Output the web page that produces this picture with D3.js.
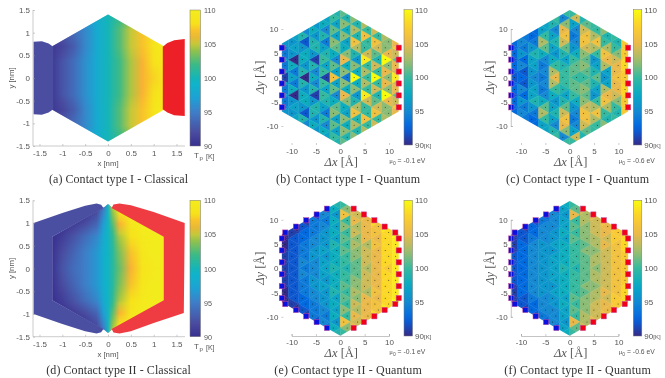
<!DOCTYPE html>
<html><head><meta charset="utf-8">
<script src="https://cdnjs.cloudflare.com/ajax/libs/d3/7.8.5/d3.min.js"></script>
<style>
html,body{margin:0;padding:0;background:#fff;overflow:hidden}
svg{display:block;filter:blur(0.5px)}
text{font-family:"Liberation Sans",sans-serif;fill:#555}
.cap{font-family:"Liberation Serif",serif;fill:#333}
.math{font-family:"Liberation Serif",serif;fill:#555}
</style></head><body>
<svg id="c" width="665" height="378"></svg>
<script>
const _ = null;
// ---------- colour maps ----------
const classicalTemps  = [90,92,95,97,99,100,102,104,105,106.5,108,110];
const classicalColors = ["#38308f","#4a4ca0","#3e7ec8","#1ea0d4","#0fb3cc","#14b5b8","#3cba86","#90c24d","#c5c83a","#f9b233","#f7e11b","#f3ec1d"];
const parulaTemps  = [90,92.5,95,97.5,100,102.5,105,107.5,110];
const parulaColors = ["#352a87","#0363e1","#1389d2","#06aac4","#36b99f","#a0bd6c","#eab94c","#fcce2e","#f9fb0e"];
const cbarTicks = [90,95,100,105,110];

// ---------- classical panels: temperature on a grid (x nm, y nm) ----------
const fieldYs = [0,0.35,0.7,1.05,1.42];
const fieldXsA = [-1.25,-1,-0.75,-0.5,-0.25,0,0.25,0.5,0.75,1,1.25];
const fieldA = [
 [90.5,92.5,94,96,98,100,102,104.5,106.5,107.5,109.5],
 [90.5,92.5,94,96,98,100,102,104.5,106.5,108,109.5],
 [90.5,91.5,93,95.5,98,100,102.5,105,107,108.5,110],
 [92,93,94,95.5,98,100,102.5,105,107,108,109],
 [94,95,96,97,98.5,100,101.5,103,105,106,107]];
const fieldXsD = [-1.25,-1,-0.75,-0.5,-0.25,-0.1,0,0.1,0.25,0.5,0.75,1,1.25];
const fieldD = [
 [90,92.5,94,95,96.5,98.5,99.5,101,103,106.5,108.5,109.5,110],
 [90,92,93.5,95,96.5,98.5,99.5,101,103.5,107,109,110,110],
 [90,91,92.5,94,95.5,98,99.5,101.5,104.5,108,109.5,110,110],
 [90,90,90.5,91.5,93,96.5,99.5,103,107,109,110,110,110],
 [90,90,90,90,91,94,99.5,105,109,110,110,110,110]];
// outlines [x,y] in nm
const hexA = [[0,1.4],[1.22,0.7],[1.22,-0.7],[0,-1.4],[-1.22,-0.7],[-1.22,0.7]];
const contactLeftA = [[-1.63,0.8],[-1.45,0.81],[-1.3,0.76],[-1.2,0.69],[-1.2,-0.69],[-1.3,-0.76],[-1.45,-0.81],[-1.63,-0.8]];
const contactRightA = [[1.2,0.69],[1.3,0.77],[1.45,0.83],[1.68,0.86],[1.68,-0.84],[1.45,-0.82],[1.3,-0.76],[1.2,-0.69]];
const hexD = [[0,1.42],[0.07,1.36],[1.22,0.7],[1.22,-0.7],[0.07,-1.36],[0,-1.42],[-0.07,-1.36],[-1.22,-0.7],[-1.22,0.7],[-0.07,1.36]];
const contactLeftD = [[-1.63,1],[-1,1.22],[-0.5,1.38],[-0.25,1.43],[-0.15,1.4],[-0.1,1.33],[-1.22,0.7],[-1.22,-0.7],[-0.1,-1.33],[-0.15,-1.4],[-0.25,-1.43],[-0.5,-1.38],[-1,-1.22],[-1.63,-1]];
const contactRightD = [[1.68,1],[1,1.24],[0.5,1.39],[0.25,1.43],[0.12,1.41],[0.08,1.33],[1.22,0.7],[1.22,-0.7],[0.08,-1.33],[0.12,-1.41],[0.25,-1.43],[0.5,-1.38],[1,-1.2],[1.66,-0.98]];

// ---------- quantum panels: tile temperature, rows y>=0, columns left to right ----------
const tilesB = [
 [91,97,90,98,91,106,94,110,100,110,102,109],
 [97,94,99,95,100,97,102,98,103,100,105,104],
 [94,98,96,99,97,101,98,102,100,104,102,105],
 [97,90,98,91,100,95,105,96,109,99,110,101],
 [94,96,98,96,99,98,102,99,104,101,105,104],
 [94,97,96,99,97,101,98,103,100,104,102,107],
 [96,96,92,99,94,102,97,106,100,106,102,105],
 [_,97,99,96,99,97,102,99,106,100,103,_],
 [_,98,95,98,95,101,98,103,100,104,102,_],
 [_,_,98,96,98,97,102,99,103,101,_,_],
 [_,_,_,98,97,100,99,102,100,_,_,_],
 [_,_,_,_,98,99,101,100,_,_,_,_]];
const tilesC = [
 [92,93,95,94,105,100,100,100,101,96,106,107],
 [93,92,96,95,103,100,101,101,99,97,105,107],
 [93,95,97,94,100,99,101,102,97,103,105,108],
 [92,93,97,95,98,97,100,101,96,105,104,108],
 [93,96,99,98,96,99,98,102,100,106,102,107],
 [93,94,96,101,97,101,96,104,103,103,100,107],
 [93,95,94,103,99,104,95,106,106,100,99,107],
 [_,94,93,100,97,106,94,106,103,99,100,_],
 [_,94,93,97,95,105,95,104,100,102,103,_],
 [_,_,94,97,99,102,97,101,100,103,_,_],
 [_,_,_,95,100,95,104,99,102,_,_,_],
 [_,_,_,_,97,100,100,98,_,_,_,_]];
const tilesE = [
 [91,92,94,95,97,99,99,101,103,105,107,109],
 [91,92,95,95,97,98,100,101,104,105,108,109],
 [91,92,94,96,96,98,100,102,104,105,108,109],
 [91,92,94,96,97,98,101,102,104,105,108,109],
 [90,92,94,95,96,99,100,103,103,106,108,109],
 [90,92,93,95,96,97,101,102,105,105,108,109],
 [90,91,93,94,96,98,100,104,105,106,108,110],
 [_,90,92,94,95,97,102,103,105,106,109,_],
 [_,90,91,94,94,98,100,105,105,108,109,_],
 [_,_,90,92,95,96,106,104,106,108,_,_],
 [_,_,_,91,94,98,102,105,107,_,_,_],
 [_,_,_,_,94,99,100,104,_,_,_,_]];
const tilesF = [
 [92,93,95,96,97,99,99,101,102,104,106,107],
 [92,93,95,96,97,98,100,101,103,104,106,107],
 [92,93,95,96,97,98,100,101,103,104,106,107],
 [91,93,95,96,96,98,100,102,102,104,106,108],
 [91,93,95,96,97,98,100,101,103,105,106,108],
 [91,92,94,95,96,97,101,102,103,104,107,108],
 [91,92,93,95,96,98,100,102,104,105,107,108],
 [_,91,93,95,95,97,101,102,104,105,107,_],
 [_,91,92,94,95,97,100,103,104,106,108,_],
 [_,_,91,93,95,96,105,103,105,107,_,_],
 [_,_,_,92,94,97,101,104,106,_,_,_],
 [_,_,_,_,94,98,100,103,_,_,_,_]];
const hexQ = [[0,13.9],[12,7],[12,-7],[0,-13.9],[-12,-7],[-12,7]];
const tileColumns = [-6,-5,-4,-3,-2,-1,0,1,2,3,4,5];
const tileWidth = 2.13, tileStep = 1.23;
// contact sites on the right-hand side (Å); the left-hand ones are their mirror
const contactsI  = [[12,6.15],[12,3.69],[12,1.23],[12,-1.23],[12,-3.69],[12,-6.15]];
const contactsII = [[2.74,12.3],[4.86,11.1],[7,9.9],[9.1,8.6],[11.3,7.38],[12,6.15],[12,3.69],[12,1.23],
                    [12,-1.23],[12,-3.69],[12,-6.15],[11.3,-7.38],[9.1,-8.6],[7,-9.9],[4.86,-11.1],[2.74,-12.3]];

const captions = ["(a) Contact type I - Classical","(b) Contact type I - Quantum","(c) Contact type I - Quantum",
                  "(d) Contact type II - Classical","(e) Contact type II - Quantum","(f) Contact type II - Quantum"];
const classicalTicks = [-1.5,-1,-0.5,0,0.5,1,1.5];
const quantumTicks = [-10,-5,0,5,10];
const hy = s => String(s).replace("\u2212","-");

const svg = d3.select("#c");
const defs = svg.append("defs");
defs.append("filter").attr("id","soft").attr("x","-5%").attr("y","-5%").attr("width","110%").attr("height","110%")
  .append("feGaussianBlur").attr("stdDeviation",0.7);
const classicalColor = d3.scaleLinear().domain(classicalTemps).range(classicalColors).clamp(true);
const parulaColor = d3.scaleLinear().domain(parulaTemps).range(parulaColors).clamp(true);
let uid = 0;

function colorbar(x0,w,yTop,yBot,color,labelX,lastLabel){
  const sc = d3.scaleLinear().domain([90,110]).range([yBot,yTop]);
  const id = "cb"+(uid++);
  const g = defs.append("linearGradient").attr("id",id).attr("x1",0).attr("x2",0).attr("y1",1).attr("y2",0);
  d3.range(0,1.001,0.05).forEach(t=>g.append("stop").attr("offset",t).attr("stop-color",color(90+20*t)));
  svg.append("rect").attr("x",x0).attr("y",yTop).attr("width",w).attr("height",yBot-yTop).attr("fill",`url(#${id})`).attr("stroke","#777").attr("stroke-width",0.5);
  cbarTicks.forEach(t=>{
    svg.append("text").attr("x",labelX).attr("y",sc(t)+3).attr("font-size",lastLabel?8:7.2)
      .text(t===90&&lastLabel?"90":t);
    if(t===90&&lastLabel) svg.append("text").attr("x",labelX+9).attr("y",sc(t)+3).attr("font-size",6).text("[K]");
  });
}

function axes(xs,ys,xTicks,yTicks,showX,showY,axisY,axisX,fs,pad){
  const styl = (g,show)=>{
    g.selectAll("text").attr("font-size",fs).attr("fill","#555").style("font-family",'"Liberation Sans",sans-serif');
    g.selectAll("line").attr("stroke","#999").attr("stroke-width",0.5);
    g.select(".domain").attr("stroke",show?"#aaa":"none").attr("stroke-width",0.7);
  };
  const ax = d3.axisBottom(xs).tickValues(xTicks).tickSize(-2).tickPadding(pad).tickFormat(hy);
  svg.append("g").attr("transform",`translate(0,${axisY})`).call(ax).call(g=>styl(g,showX));
  const ay = d3.axisLeft(ys).tickValues(yTicks).tickSize(-2).tickPadding(3).tickFormat(hy);
  svg.append("g").attr("transform",`translate(${axisX},0)`).call(ay).call(g=>styl(g,showY));
}

function classical(xTable,field,hex,cl,cr,leftFill,rightFill,yTop,yBot){
  const x = d3.scaleLinear().domain([-1.5,1.5]).range([39.5,176.5]);
  const y = d3.scaleLinear().domain([-1.5,1.5]).range([yBot,yTop]);
  const line = d3.line().x(d=>x(d[0])).y(d=>y(d[1]));
  const cid="clip"+(uid++);
  defs.append("clipPath").attr("id",cid).append("path").attr("d",line(hex)+"Z");
  const strips = svg.append("g").attr("clip-path",`url(#${cid})`);
  const bisect = d3.bisector(d=>d).right;
  for(let py=Math.floor(y(1.45));py<y(-1.45);py+=1){
    const v = Math.abs(y.invert(py+0.5));
    let i = Math.min(bisect(fieldYs,v)-1,fieldYs.length-2);
    const t = Math.min(1,(v-fieldYs[i])/(fieldYs[i+1]-fieldYs[i]));
    const id="f"+(uid++);
    const g=defs.append("linearGradient").attr("id",id).attr("gradientUnits","userSpaceOnUse")
      .attr("x1",x(xTable[0])).attr("x2",x(xTable[xTable.length-1])).attr("y1",0).attr("y2",0);
    const span = xTable[xTable.length-1]-xTable[0];
    xTable.forEach((xv,j)=>g.append("stop").attr("offset",(xv-xTable[0])/span)
      .attr("stop-color",classicalColor(field[i][j]*(1-t)+field[i+1][j]*t)));
    strips.append("path").attr("d",`M${x(-1.3)},${py}H${x(1.3)}V${py+1.4}H${x(-1.3)}Z`).attr("fill",`url(#${id})`);
  }
  svg.append("path").attr("d",line(cl)+"Z").attr("fill",leftFill);
  svg.append("path").attr("d",line(cr)+"Z").attr("fill",rightFill);
  svg.append("line").attr("x1",33).attr("x2",33).attr("y1",yTop).attr("y2",yBot).attr("stroke","#aaa").attr("stroke-width",0.6);
  axes(x,y,classicalTicks,classicalTicks,false,false,yBot,33,8,4.3);
  svg.append("line").attr("x1",33).attr("x2",185).attr("y1",yBot).attr("y2",yBot).attr("stroke","#aaa").attr("stroke-width",0.6);
  svg.append("text").attr("x",108).attr("y",yBot+20).attr("text-anchor","middle").attr("font-size",7.8).text("x [nm]");
  svg.append("text").attr("transform",`translate(14,${(yTop+yBot)/2}) rotate(-90)`).attr("text-anchor","middle").attr("font-size",7.8).text("y [nm]");
  colorbar(190,10.5,yTop,yBot,classicalColor,204,false);
  svg.append("text").attr("x",194).attr("y",yBot+12).attr("font-size",8).text("T");
  svg.append("text").attr("x",199.5).attr("y",yBot+14).attr("font-size",6).text("p");
  svg.append("text").attr("x",206).attr("y",yBot+13).attr("font-size",7).text("[K]");
}

function quantum(table,x0,y0,contacts,mu,yTop,yBot,cbarX,showX,showY){
  const x = d3.scaleLinear().domain([-10,10]).range([x0-48.7,x0+48.7]);
  const y = d3.scaleLinear().domain([-10,10]).range([y0+48.5,y0-48.5]);
  const line = d3.line().x(d=>x(d[0])).y(d=>y(d[1]));
  const cid="clip"+(uid++);
  defs.append("clipPath").attr("id",cid).append("path").attr("d",line(hexQ)+"Z");
  const g = svg.append("g").attr("clip-path",`url(#${cid})`).append("g").attr("filter","url(#soft)");
  const dots=[];
  table.forEach((row,n)=>row.forEach((T,ci)=>{
    if(T===null) return;
    const k = tileColumns[ci], right = ((n+k)%2+2)%2===1;
    const xb = right ? k*tileWidth : (k+1)*tileWidth;
    const xa = right ? (k+1)*tileWidth : k*tileWidth;
    (n===0?[1]:[1,-1]).forEach(sign=>{
      const yc = sign*n*tileStep;
      const tri=[[xb,yc+tileStep],[xa,yc],[xb,yc-tileStep]];
      g.append("path").attr("d",line(tri)+"Z").attr("fill",parulaColor(T)).attr("stroke",parulaColor(T)).attr("stroke-width",0.4);
      dots.push([xb+(xa-xb)/3,yc]);
    });
  }));
  dots.filter(d=>d3.polygonContains(hexQ,d)).forEach(d=>
    svg.append("circle").attr("cx",x(d[0])).attr("cy",y(d[1])).attr("r",0.5).attr("fill","#111").attr("fill-opacity",0.8));
  const square=(d,fill)=>svg.append("rect").attr("x",x(d[0])-2.6).attr("y",y(d[1])-2.6).attr("width",5.2).attr("height",5.2)
     .attr("fill",fill).attr("stroke","#c04a9a").attr("stroke-width",0.5);
  contacts.forEach(d=>{ square(d,"#f2001a"); square([-d[0],d[1]],"#0a10e0"); });
  axes(x,y,quantumTicks,quantumTicks,showX,showY,yBot,x(-12.1),8,3);
  const label=(t,sel)=>{ sel.append("tspan").attr("font-style","italic").text("\u0394"+t); sel.append("tspan").text(" [\u00c5]"); };
  label("x",svg.append("text").attr("class","math").attr("x",x0+1).attr("y",yBot+20.5).attr("text-anchor","middle").attr("font-size",12.5));
  label("y",svg.append("text").attr("class","math").attr("transform",`translate(${x0-76},${(yTop+yBot)/2}) rotate(-90)`).attr("text-anchor","middle").attr("font-size",12.5));
  const m = svg.append("text").attr("x",x0+49).attr("y",yBot+18).attr("font-size",6.8);
  m.append("tspan").attr("font-family","Liberation Serif").text("\u03bc");
  m.append("tspan").attr("dy",1.5).attr("font-size",5).text("0");
  m.append("tspan").attr("dy",-1.5).text(` = ${mu} eV`);
  colorbar(cbarX,8.5,yTop,yBot,parulaColor,cbarX+11,true);
}

classical(fieldXsA,fieldA,hexA,contactLeftA,contactRightA,"#4a4da0","#ee2027",10,146);
classical(fieldXsD,fieldD,hexD,contactLeftD,contactRightD,"#4a4fa2","#ef3b42",200.3,336.7);
quantum(tilesB,340.3,77.5,contactsI,"-0.1",9.7,145,404,false,false);
quantum(tilesC,569.7,77.5,contactsI,"-0.6",9.7,145,633.3,false,true);
quantum(tilesE,340.3,268.3,contactsII,"-0.1",200.3,336,404,true,false);
quantum(tilesF,569.7,268.3,contactsII,"-0.6",200.3,336,633.3,true,true);

const capCx=[118.5,348,577.5,118.5,348,577.5], capY=[183,183,183,373.5,373.5,373.5], capW=[139,144,143,144.5,147.5,146.5];
captions.forEach((c,i)=>svg.append("text").attr("class","cap").attr("x",capCx[i]).attr("y",capY[i]).attr("text-anchor","middle")
  .attr("font-size",12).attr("textLength",capW[i]).attr("lengthAdjust","spacing").text(c));
</script>
</body></html>
